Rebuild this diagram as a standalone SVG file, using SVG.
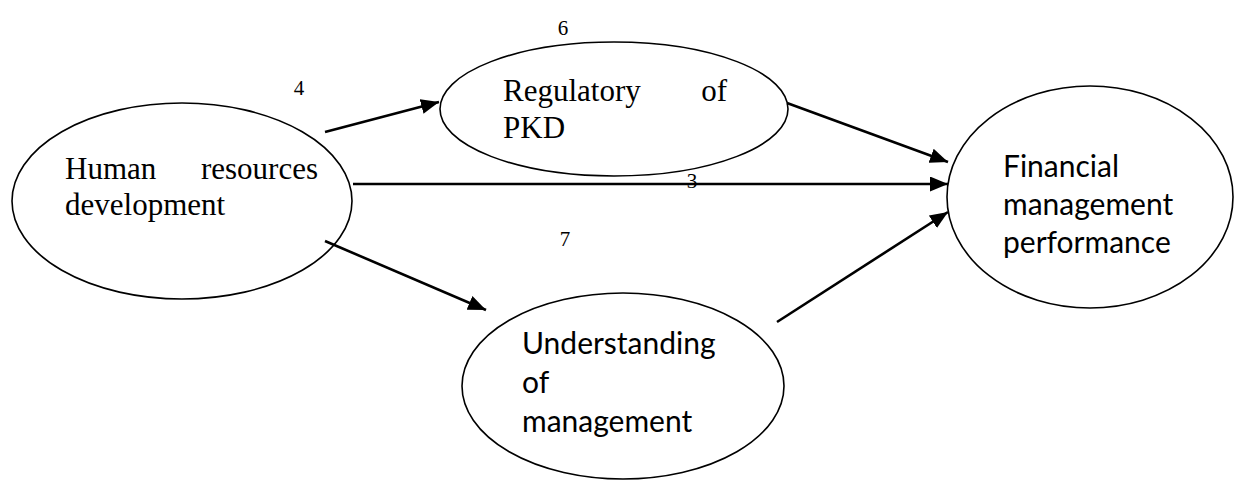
<svg xmlns="http://www.w3.org/2000/svg" width="1234" height="480" viewBox="0 0 1234 480">
<style>
.node ellipse{fill:#fff;stroke:#000;stroke-width:1.6}
.serif{font-family:"Liberation Serif","Times New Roman",serif;font-size:31px;fill:#000}
.sans{font-family:Lato,"Liberation Sans",sans-serif;font-size:30px;fill:#000}
.num{font-family:"Liberation Serif","Times New Roman",serif;font-size:21px;fill:#000;text-anchor:middle}
.edge{stroke:#000;stroke-width:2.6;fill:none;marker-end:url(#ah)}
</style>
<defs>
<marker id="ah" markerUnits="userSpaceOnUse" markerWidth="19" markerHeight="15" refX="18" refY="7.5" orient="auto">
<path d="M0,0 L18,7.5 L0,15 Z" fill="#000"/>
</marker>
</defs>
<rect width="1234" height="480" fill="#fff"/>
<g id="human" class="node">
<ellipse cx="182" cy="201" rx="170" ry="98"/>
<text class="serif" x="65" y="179">Human</text>
<text class="serif" x="318" y="179" text-anchor="end">resources</text>
<text class="serif" x="65" y="215">development</text>
</g>
<g id="regulatory" class="node">
<ellipse cx="614" cy="109" rx="174" ry="67"/>
<text class="serif" x="503" y="101">Regulatory</text>
<text class="serif" x="727" y="101" text-anchor="end">of</text>
<text class="serif" x="503" y="138">PKD</text>
</g>
<g id="understanding" class="node">
<ellipse cx="623" cy="386" rx="161" ry="93"/>
<text class="sans" x="522" y="354">Understanding</text>
<text class="sans" x="522" y="393">of</text>
<text class="sans" x="522" y="432">management</text>
</g>
<g id="financial" class="node">
<ellipse cx="1090" cy="197" rx="143" ry="111"/>
<text class="sans" x="1003" y="177">Financial</text>
<text class="sans" x="1003" y="215">management</text>
<text class="sans" x="1003" y="253">performance</text>
</g>
<g id="labels">
<text class="num" x="563" y="35">6</text>
<text class="num" x="299" y="95">4</text>
<text class="num" x="565" y="246">7</text>
<text class="num" x="692" y="188">3</text>
</g>
<g id="connectors">
<line class="edge" x1="325" y1="132" x2="439" y2="102"/>
<line class="edge" x1="353" y1="184" x2="948" y2="184"/>
<line class="edge" x1="787" y1="103" x2="948" y2="162"/>
<line class="edge" x1="777" y1="322" x2="948" y2="212"/>
<line class="edge" x1="325" y1="241" x2="486" y2="310"/>
</g>
</svg>
